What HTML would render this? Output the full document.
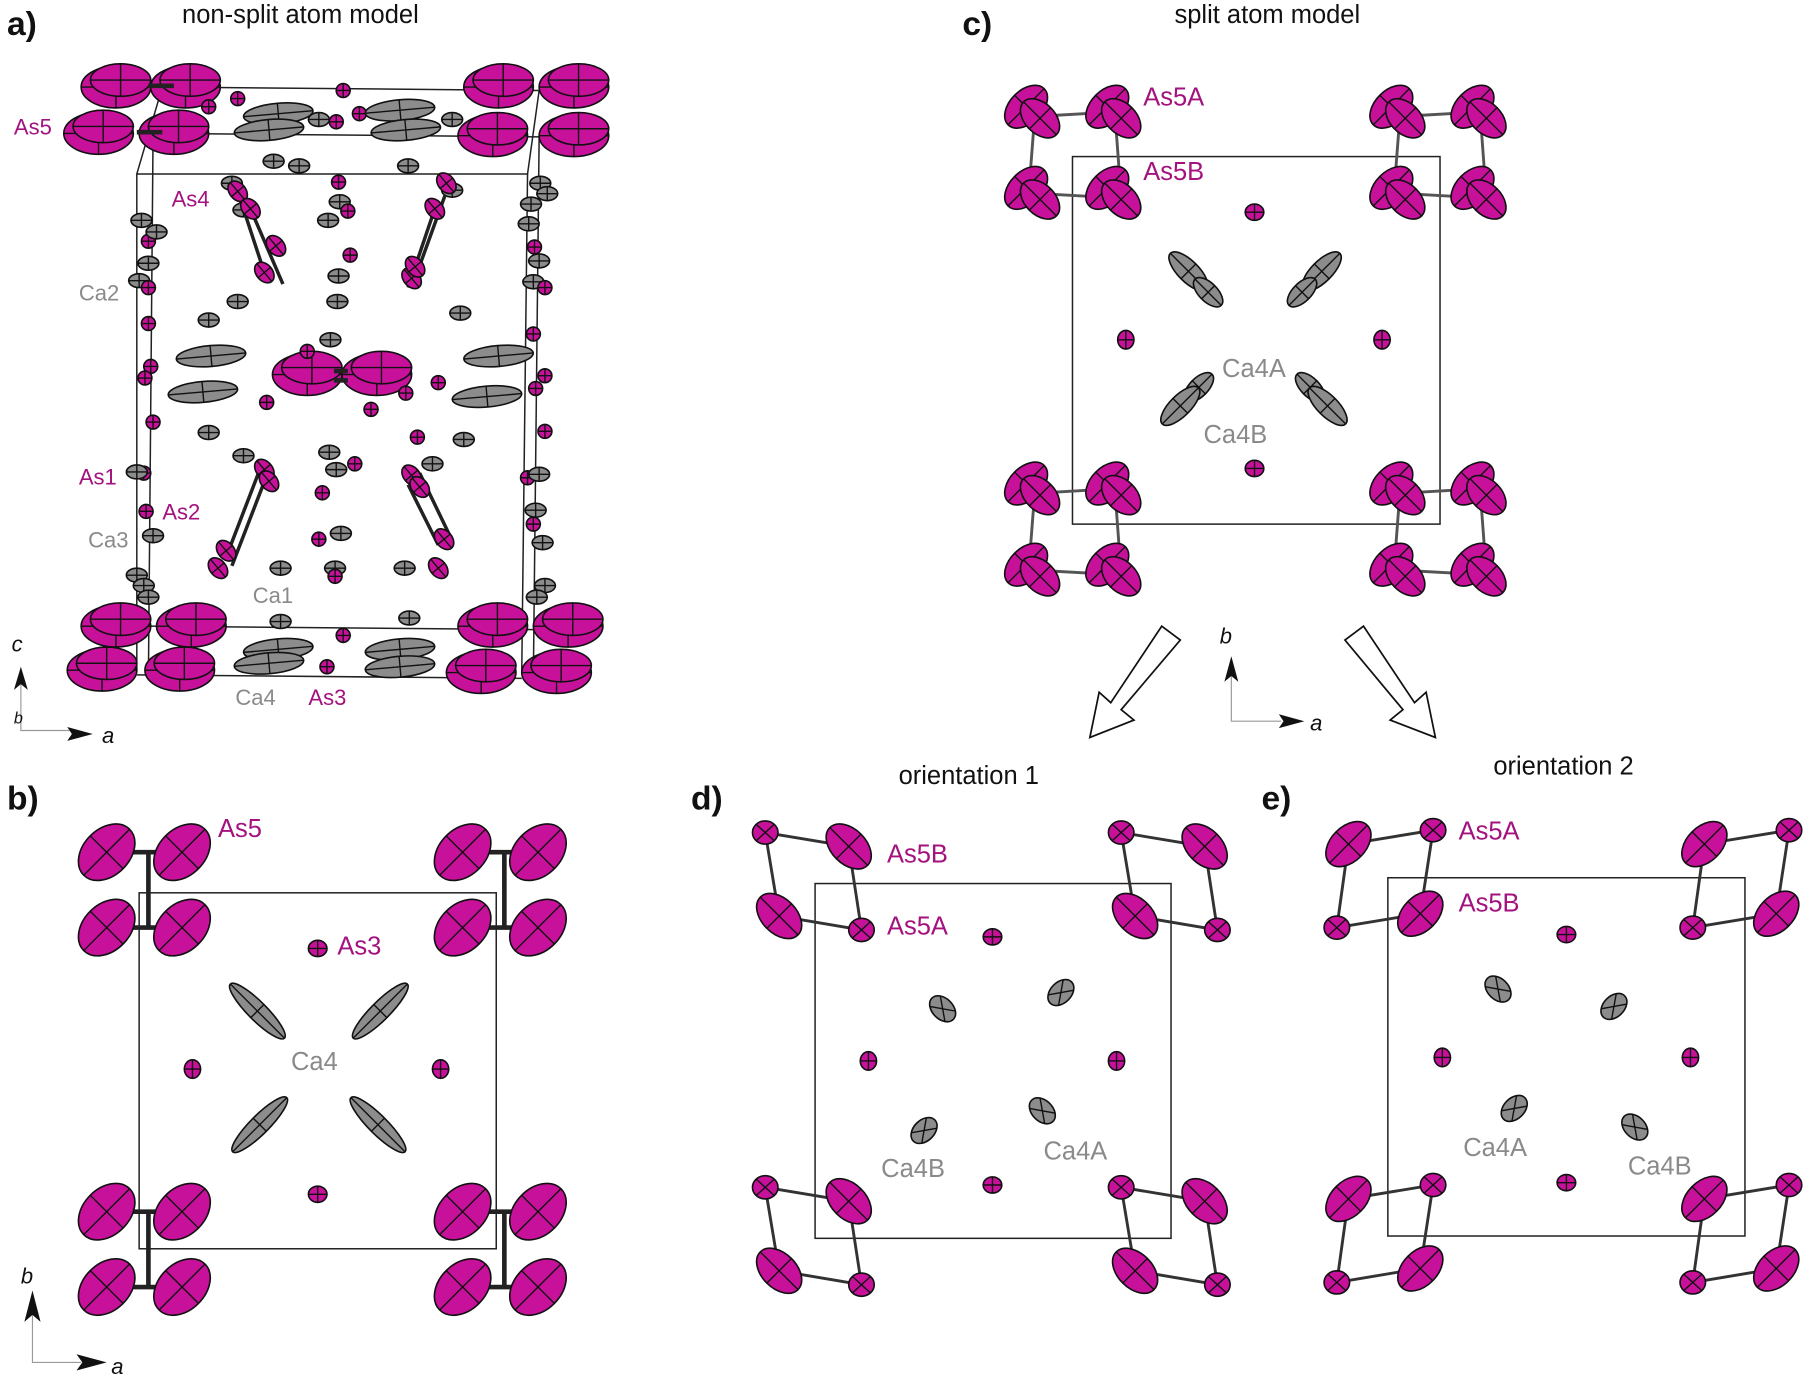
<!DOCTYPE html>
<html><head><meta charset="utf-8"><style>
html,body{margin:0;padding:0;background:#fff}
svg{display:block}
text{font-family:"Liberation Sans",Arial,sans-serif}
.m{fill:#a3127f}.g{fill:#8a8a8a}
</style></head><body>
<svg id="s" width="1818" height="1381" viewBox="0 0 1568 1191" xmlns="http://www.w3.org/2000/svg">
<rect width="1568" height="1191" fill="#fff"/>
<g id="L" fill="none" stroke="#222" stroke-width="1.3">
<polygon points="118,150 140,75 465,78 455,150"/>
<line x1="118" y1="150" x2="118" y2="580"/><line x1="132" y1="118" x2="128" y2="585"/>
<line x1="455" y1="150" x2="450" y2="580"/><line x1="465" y1="118" x2="460" y2="585"/>
<line x1="140" y1="115" x2="465" y2="118"/>
<line x1="128" y1="540" x2="460" y2="543"/><line x1="118" y1="582" x2="450" y2="585"/>
<rect x="120" y="770" width="308" height="307"/>
<rect x="925" y="135" width="317" height="317"/>
<rect x="703" y="762" width="307" height="306"/>
<rect x="1197" y="757" width="308" height="309"/>
</g>
<g id="A"></g>
<g fill="#fff" stroke="#111" stroke-width="1.5">
<polygon points="1002,540 1018,552 967,612 978,621 940,636 948,597 958,606"/>
<polygon points="1176,540 1160,552 1210,612 1199,621 1238,636 1230,597 1220,606"/>
</g>
<g stroke="#999" stroke-width="1" fill="none">
<polyline points="18,582 18,630 60,630"/>
<polyline points="1062,575 1062,622 1105,622"/>
<polyline points="28,1125 28,1175 70,1175"/>
</g>
<g fill="#111">
<polygon points="18,575 12,595 18,590 24,595"/><polygon points="80,633 58,627 62,633 58,639"/>
<polygon points="1062,566 1056,588 1062,583 1068,588"/><polygon points="1125,622 1103,616 1107,622 1103,628"/>
<polygon points="28,1113 21,1140 28,1134 35,1140"/><polygon points="92,1175 66,1168 71,1175 66,1182"/>
</g>
<g font-size="19" fill="#111" font-style="italic">
<text x="10" y="562">c</text><text x="12" y="624" font-size="14">b</text><text x="88" y="641">a</text>
<text x="1052" y="555">b</text><text x="1130" y="630">a</text>
<text x="18" y="1107">b</text><text x="96" y="1185">a</text>
</g>
<g font-size="29" font-weight="bold" fill="#111">
<text x="6" y="30">a)</text><text x="830" y="30">c)</text><text x="6" y="698">b)</text>
<text x="596" y="698">d)</text><text x="1088" y="698">e)</text>
</g>
<g font-size="22" fill="#111">
<text x="157" y="20">non-split atom model</text><text x="1013" y="20">split atom model</text>
<text x="775" y="676">orientation 1</text><text x="1288" y="668">orientation 2</text>
</g>
<g font-size="19" class="m">
<text x="12" y="116">As5</text><text x="148" y="178">As4</text><text x="68" y="418">As1</text>
<text x="140" y="448">As2</text><text x="266" y="608">As3</text>
</g>
<g font-size="19" class="g">
<text x="68" y="259">Ca2</text><text x="76" y="472">Ca3</text><text x="218" y="520">Ca1</text><text x="203" y="608">Ca4</text>
</g>
<g font-size="22" class="m">
<text x="986" y="91">As5A</text><text x="986" y="155">As5B</text>
<text x="188" y="722">As5</text><text x="291" y="823">As3</text>
<text x="765" y="744">As5B</text><text x="765" y="806">As5A</text>
<text x="1258" y="724">As5A</text><text x="1258" y="786">As5B</text>
</g>
<g font-size="22" class="g">
<text x="1054" y="325">Ca4A</text><text x="1038" y="382">Ca4B</text><text x="251" y="923">Ca4</text>
<text x="760" y="1015">Ca4B</text><text x="900" y="1000">Ca4A</text>
<text x="1262" y="997">Ca4A</text><text x="1404" y="1013">Ca4B</text>
</g>
</svg>
<script>
var G=document.getElementById('A'),NS='http://www.w3.org/2000/svg';
function el(n,a){var e=document.createElementNS(NS,n);for(var k in a)e.setAttribute(k,a[k]);G.appendChild(e);return e;}
function ln(x1,y1,x2,y2,w,c){el('line',{x1:x1,y1:y1,x2:x2,y2:y2,stroke:c||'#222','stroke-width':w||3});}
function at(x,y,rx,ry,r,col,cr){var g=document.createElementNS(NS,'g');g.setAttribute('transform','translate('+x+','+y+') rotate('+r+')');G.appendChild(g);
 var e=document.createElementNS(NS,'ellipse');e.setAttribute('rx',rx);e.setAttribute('ry',ry);e.setAttribute('fill',col=='m'?'#c8119a':'#8c8c8c');e.setAttribute('stroke','#111');e.setAttribute('stroke-width',1.4);g.appendChild(e);
 var p=document.createElementNS(NS,'path');var d;
 if(cr=='x'){var a=rx*0.72,b=ry*0.72;d='M'+(-a)+','+(-b)+'L'+a+','+b+'M'+(-a)+','+b+'L'+a+','+(-b);}
 else d='M'+(-rx)+',0L'+rx+',0M0,'+(-ry)+'L0,'+ry;
 p.setAttribute('d',d);p.setAttribute('stroke','#111');p.setAttribute('stroke-width',1.2);p.setAttribute('fill','none');g.appendChild(p);}
function big(x,y){at(x,y,30,18,0,'m');at(x+4,y-6,26,14,0,'m');}
[[100,75],[160,75],[85,115],[150,115],[430,75],[495,75],[425,117],[495,117],
 [88,578],[155,578],[100,540],[165,540],[425,540],[490,540],[415,580],[480,580],
 [265,323],[325,323]].forEach(function(p){big(p[0],p[1]);});
ln(128,74,150,74,4);ln(118,114,140,114,4);ln(288,320,300,320,4);ln(288,328,300,328,4);
var sm=[[296,78,'m'],[205,85,'m'],[310,98,'m'],[290,105,'m'],[275,103,'g'],[390,103,'g'],
[180,92,'m'],[258,143,'g'],[352,143,'g'],[292,157,'m'],[293,174,'g'],[300,182,'m'],[283,190,'g'],[236,139,'g'],[210,181,'g'],
[292,238,'g'],[291,260,'g'],[302,220,'m'],[205,260,'g'],[180,276,'g'],[285,293,'g'],[397,270,'g'],[390,164,'g'],
[128,208,'m'],[122,190,'g'],[128,227,'g'],[135,200,'g'],[120,242,'g'],[128,248,'m'],[128,279,'m'],[130,316,'m'],[125,326,'m'],
[132,364,'m'],[124,408,'m'],[118,407,'g'],[126,441,'m'],[132,462,'g'],[118,496,'g'],[124,505,'g'],[128,515,'g'],
[180,373,'g'],[400,379,'g'],[350,339,'m'],[230,347,'m'],[265,303,'m'],[378,330,'m'],[360,377,'m'],[320,353,'m'],
[284,390,'g'],[290,405,'g'],[306,400,'m'],[278,425,'m'],[294,460,'g'],[275,465,'m'],[289,490,'g'],[289,497,'m'],
[242,490,'g'],[349,490,'g'],[242,536,'g'],[353,533,'g'],[296,548,'m'],[282,575,'m'],[210,393,'g'],[373,400,'g'],
[466,158,'g'],[458,176,'g'],[472,167,'g'],[456,193,'g'],[461,213,'m'],[465,225,'g'],[460,243,'g'],[470,248,'m'],[460,288,'m'],
[470,324,'m'],[462,335,'m'],[470,372,'m'],[455,412,'m'],[465,409,'g'],[462,440,'g'],[460,452,'m'],[468,468,'g'],[470,505,'g'],[463,515,'g'],[200,158,'g']];
sm.forEach(function(p){at(p[0],p[1],p[2]=='m'?6:9,6,0,p[2]);});
[[240,98],[345,95],[232,112],[350,112],[182,307],[430,307],[175,338],[420,342],[240,560],[345,560],[232,572],[345,575]].forEach(function(p){at(p[0],p[1],30,9,-5,'g');});
ln(205,165,228,235,3);ln(216,180,244,245,3);ln(375,180,352,248,3);ln(384,168,358,240,3);
ln(226,400,196,478,3);ln(232,405,200,488,3);ln(352,418,378,470,3);ln(362,408,388,462,3);
[[205,165],[216,180],[238,212],[228,235],[385,158],[375,180],[355,240],[358,230],[228,405],[232,415],[195,475],[188,490],[355,410],[362,420],[383,465],[378,490]].forEach(function(p){at(p[0],p[1],10,7,50,'m');});
function bcl(x,y){ln(x,y,x+65,y,4);ln(x,y+65,x+65,y+65,4);ln(x+30,y,x+30,y+65,4);
 [[x,y],[x+65,y],[x,y+65],[x+65,y+65]].forEach(function(p){at(p[0]-6,p[1],28,20,-45,'m');});}
bcl(98,735);bcl(405,735);bcl(98,1045);bcl(405,1045);
at(274,818,8,7,0,'m');at(274,1030,8,7,0,'m');at(166,922,7,8,0,'m');at(380,922,7,8,0,'m');
at(222,872,33,8,45,'g');at(328,872,33,8,-45,'g');at(224,970,33,8,-45,'g');at(326,970,33,8,45,'g');
function ccl(x,y){var L=[[x,y],[x+70,y],[x,y+70],[x+70,y+70]];
 ln(x+10,y+5,x+62,y+2,2.5,'#555');ln(x+8,y+72,x+62,y+75,2.5,'#555');ln(x+2,y+10,x-2,y+62,2.5,'#555');ln(x+72,y+8,x+76,y+62,2.5,'#555');
 L.forEach(function(p){at(p[0]-5,p[1]-3,22,14,-45,'m');at(p[0]+7,p[1]+7,20,13,45,'m');});}
ccl(890,95);ccl(1205,95);ccl(890,420);ccl(1205,420);
at(1082,183,8,7,0,'m');at(1082,404,8,7,0,'m');at(971,293,7,8,0,'m');at(1192,293,7,8,0,'m');
at(1025,234,22,9,45,'g');at(1042,252,16,8,45,'g');at(1140,234,22,9,-45,'g');at(1123,252,16,8,-45,'g');
at(1034,334,16,8,-45,'g');at(1018,350,22,9,-45,'g');at(1130,334,16,8,45,'g');at(1145,350,22,9,45,'g');
function dcl(x,y,m){
 var sA,sB,lA,lB;
 if(!m){sA=[x,y];lA=[x+72,y+12];lB=[x+12,y+72];sB=[x+83,y+84];}
 else{sA=[x+83,y];lA=[x+10,y+12];lB=[x+72,y+72];sB=[x,y+84];}
 [[sA,lA],[sA,lB],[lA,sB],[lB,sB]].forEach(function(q){ln(q[0][0],q[0][1],q[1][0],q[1][1],2.5,'#333');});
 at(sA[0],sA[1],11,10,0,'m','x');at(sB[0],sB[1],11,10,0,'m','x');
 at(lA[0],lA[1],23,15,m?-45:45,'m');at(lB[0],lB[1],23,15,m?-45:45,'m');}
dcl(660,718,0);dcl(967,718,0);dcl(660,1024,0);dcl(967,1024,0);
dcl(1153,716,1);dcl(1460,716,1);dcl(1153,1022,1);dcl(1460,1022,1);
at(856,808,8,7,0,'m');at(856,1022,8,7,0,'m');at(749,915,7,8,0,'m');at(963,915,7,8,0,'m');
at(813,870,13,9,45,'g','x');at(915,856,13,9,-45,'g','x');at(797,975,13,9,-45,'g','x');at(899,958,13,9,45,'g','x');
at(1351,806,8,7,0,'m');at(1351,1020,8,7,0,'m');at(1244,912,7,8,0,'m');at(1458,912,7,8,0,'m');
at(1292,853,13,9,45,'g','x');at(1392,868,13,9,-45,'g','x');at(1306,956,13,9,-45,'g','x');at(1410,972,13,9,45,'g','x');
</script>
</body></html>
